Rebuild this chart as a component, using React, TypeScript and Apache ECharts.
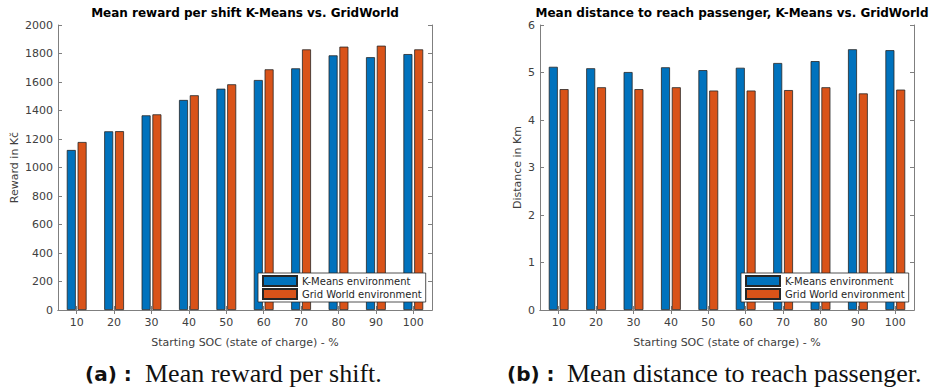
import React, { useEffect, useRef } from "react";
import * as echarts from "echarts";

// Starting state of charge (%) on the x axis
const categories = ["10", "20", "30", "40", "50", "60", "70", "80", "90", "100"];

// Mean reward per shift (Kč)
const rewardKMeans = [1123, 1254, 1366, 1474, 1553, 1614, 1696, 1787, 1774, 1796];
const rewardGrid = [1179, 1255, 1373, 1507, 1584, 1689, 1829, 1848, 1855, 1829];

// Mean distance to reach passenger (km)
const distKMeans = [5.12, 5.09, 5.01, 5.11, 5.05, 5.1, 5.2, 5.24, 5.49, 5.47];
const distGrid = [4.65, 4.69, 4.65, 4.69, 4.62, 4.62, 4.63, 4.69, 4.56, 4.64];

const seriesNames = ["K-Means environment", "Grid World environment"];

const BLUE = "#0072BD";
const ORANGE = "#D95319";
const AXIS = "#7f7f7f";
const LABEL = "#404040";
const FONT = "DejaVu Sans";

function bottomAxis(gridIndex: number) {
  return {
    type: "category",
    gridIndex,
    data: categories,
    position: "bottom",
    axisLine: { show: true, lineStyle: { color: AXIS, width: 1 } },
    axisTick: { show: true, inside: true, alignWithLabel: true, length: 4, lineStyle: { color: AXIS } },
    axisLabel: { fontSize: 11, color: LABEL, margin: 7, fontFamily: FONT },
    name: "Starting SOC (state of charge) - %",
    nameLocation: "middle",
    nameGap: 27,
    nameTextStyle: { fontSize: 11, color: LABEL, fontFamily: FONT },
  };
}

function topAxis(gridIndex: number) {
  return {
    type: "category",
    gridIndex,
    data: categories,
    position: "top",
    axisLine: { show: true, lineStyle: { color: AXIS, width: 1 } },
    axisTick: { show: true, inside: true, alignWithLabel: true, length: 4, lineStyle: { color: AXIS } },
    axisLabel: { show: false },
  };
}

function leftAxis(gridIndex: number, max: number, interval: number, name: string, nameGap: number) {
  return {
    type: "value",
    gridIndex,
    position: "left",
    min: 0,
    max,
    interval,
    splitLine: { show: false },
    axisLine: { show: true, lineStyle: { color: AXIS, width: 1 } },
    axisTick: { show: true, inside: true, length: 4, lineStyle: { color: AXIS } },
    axisLabel: {
      fontSize: 11,
      color: LABEL,
      margin: 5,
      fontFamily: FONT,
      formatter: (v: number) => String(v),
    },
    name,
    nameLocation: "middle",
    nameGap,
    nameTextStyle: { fontSize: 11, color: LABEL, fontFamily: FONT },
  };
}

function rightAxis(gridIndex: number, max: number, interval: number) {
  return {
    type: "value",
    gridIndex,
    position: "right",
    min: 0,
    max,
    interval,
    splitLine: { show: false },
    axisLine: { show: true, lineStyle: { color: AXIS, width: 1 } },
    axisTick: { show: true, inside: true, length: 4, lineStyle: { color: AXIS } },
    axisLabel: { show: false },
  };
}

function barSeries(name: string, data: number[], color: string, axisIndex: number) {
  return {
    type: "bar",
    name,
    data,
    xAxisIndex: axisIndex,
    yAxisIndex: axisIndex,
    barWidth: 9,
    barGap: "20%",
    itemStyle: { color, borderColor: "#262626", borderWidth: 0.8 },
  };
}

function legendAt(left: number) {
  return {
    left,
    top: 273,
    orient: "vertical",
    data: seriesNames,
    icon: "rect",
    itemWidth: 34,
    itemHeight: 10,
    itemGap: 1,
    padding: [2, 4, 2, 4],
    backgroundColor: "#ffffff",
    borderColor: "#262626",
    borderWidth: 0.8,
    borderRadius: 0,
    selectedMode: false,
    textStyle: { fontSize: 10, color: "#262626", fontFamily: FONT },
  };
}

function titleText(x: number, text: string) {
  return {
    type: "text",
    x,
    y: 13,
    style: {
      text,
      fontFamily: FONT,
      fontWeight: "bold",
      fontSize: 12,
      fill: "#000",
      align: "center",
      verticalAlign: "middle",
    },
  };
}

function captionTag(x: number, text: string) {
  return {
    type: "text",
    x,
    y: 374,
    style: {
      text,
      fontFamily: FONT,
      fontWeight: "bold",
      fontSize: 20,
      fill: "#111",
      align: "left",
      verticalAlign: "middle",
    },
  };
}

function captionBody(x: number, text: string) {
  return {
    type: "text",
    x,
    y: 373,
    style: {
      text,
      fontFamily: "Liberation Serif",
      fontSize: 26,
      fill: "#111",
      align: "left",
      verticalAlign: "middle",
    },
  };
}

export default function App() {
  const ref = useRef<HTMLDivElement>(null);

  useEffect(() => {
    if (!ref.current) return;
    const chart = echarts.init(ref.current, undefined, { renderer: "svg" });
    chart.setOption({
      animation: false,
      backgroundColor: "#ffffff",
      grid: [
        { left: 58, top: 25, width: 374, height: 285 },
        { left: 540, top: 25, width: 374, height: 285 },
      ],
      xAxis: [bottomAxis(0), topAxis(0), bottomAxis(1), topAxis(1)],
      yAxis: [
        leftAxis(0, 2000, 200, "Reward in Kč", 38),
        rightAxis(0, 2000, 200),
        leftAxis(1, 6, 1, "Distance in Km", 17),
        rightAxis(1, 6, 1),
      ],
      legend: [legendAt(258), legendAt(741)],
      series: [
        barSeries(seriesNames[0], rewardKMeans, BLUE, 0),
        barSeries(seriesNames[1], rewardGrid, ORANGE, 0),
        barSeries(seriesNames[0], distKMeans, BLUE, 2),
        barSeries(seriesNames[1], distGrid, ORANGE, 2),
      ],
      graphic: [
        titleText(245, "Mean reward per shift K-Means vs. GridWorld"),
        titleText(732, "Mean distance to reach passenger, K-Means vs. GridWorld"),
        captionTag(85, "(a) :"),
        captionBody(145, "Mean reward per shift."),
        captionTag(507, "(b) :"),
        captionBody(567, "Mean distance to reach passenger."),
      ],
    });
    return () => chart.dispose();
  }, []);

  return (
    <div
      ref={ref}
      style={{ position: "fixed", left: 0, top: 0, width: 935, height: 389, background: "#fff" }}
    />
  );
}
